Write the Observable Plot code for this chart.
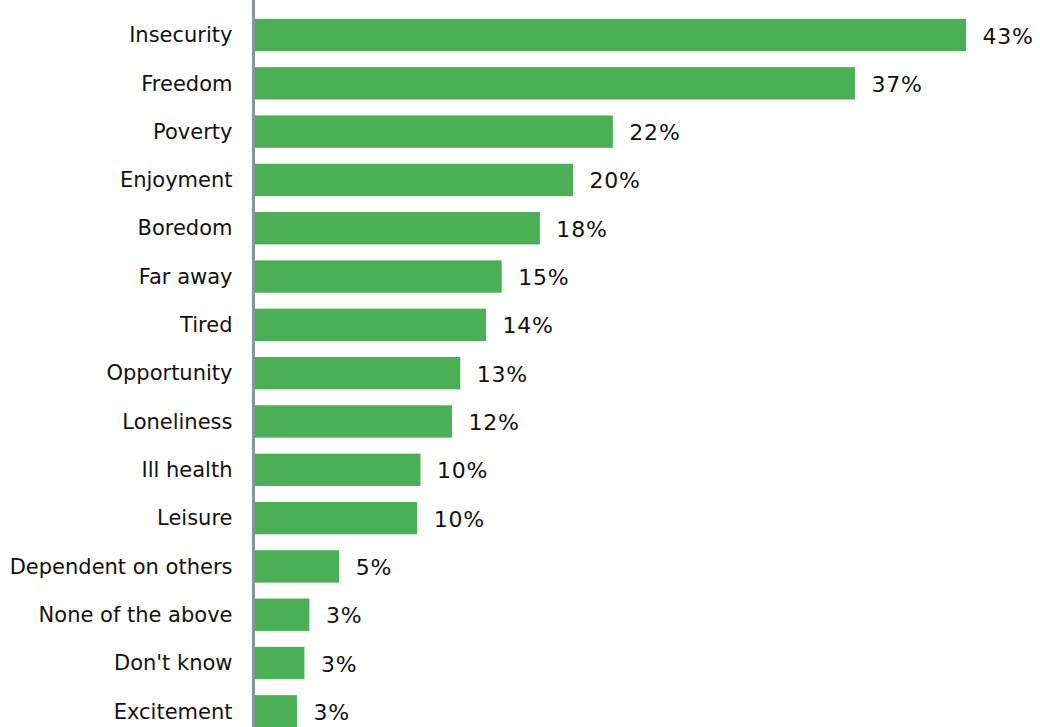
<!DOCTYPE html>
<html>
<head>
<meta charset="utf-8">
<script src="https://cdn.jsdelivr.net/npm/d3@7"></script>
<script src="https://cdn.jsdelivr.net/npm/@observablehq/plot@0.6"></script>
<style>
html, body { margin: 0; padding: 0; background: #fff; overflow: hidden; }
#chart svg { display: block; }
#chart svg g[aria-label="text"] text { letter-spacing: 0.8px; }
</style>
</head>
<body>
<div id="chart"></div>
<script>
const categories = ["Insecurity", "Freedom", "Poverty", "Enjoyment", "Boredom", "Far away", "Tired", "Opportunity", "Loneliness", "Ill health", "Leisure", "Dependent on others", "None of the above", "Don't know", "Excitement"];
const values = [43.0, 36.3, 21.7, 19.3, 17.3, 15.0, 14.05, 12.5, 12.0, 10.1, 9.9, 5.2, 3.4, 3.1, 2.65];
const valueLabels = ["43%", "37%", "22%", "20%", "18%", "15%", "14%", "13%", "12%", "10%", "10%", "5%", "3%", "3%", "3%"];

const data = categories.map((c, i) => ({category: c, value: values[i], label: valueLabels[i]}));

const chart = Plot.plot({
  width: 1040,
  height: 727,
  marginLeft: 253,
  marginRight: 0,
  marginTop: 0,
  marginBottom: 0,
  style: {fontFamily: "DejaVu Sans, Verdana, sans-serif", background: "#fff", overflow: "hidden"},
  x: {domain: [0, 43], range: [253, 966], axis: null},
  y: {domain: categories, range: [10.85, 735.5], paddingInner: 0.33, paddingOuter: 0.165, round: false, label: null},
  marks: [
    Plot.barX(data, {x: "value", y: "category", fill: "#4baf55"}),
    Plot.ruleX([0], {stroke: "#8b949c", strokeWidth: 3}),
    Plot.axisY({tickSize: 0, tickPadding: 21, fontSize: 21, fill: "#111", label: null}),
    Plot.text(data, {x: "value", y: "category", text: "label", dx: 16, dy: 1, textAnchor: "start", fontSize: 22, fill: "#111"})
  ]
});
document.getElementById("chart").appendChild(chart);
</script>
</body>
</html>
